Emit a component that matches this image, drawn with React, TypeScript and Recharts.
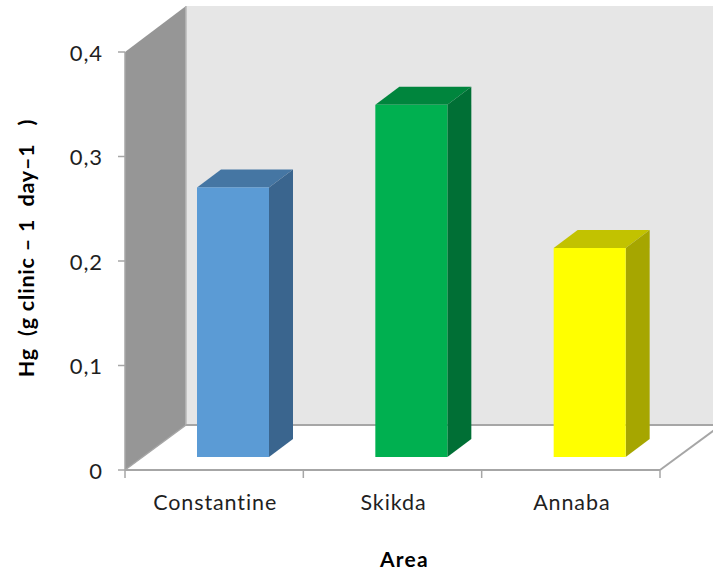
import { BarChart, Bar, XAxis, YAxis, usePlotArea } from "recharts";

const areas = ["Constantine", "Skikda", "Annaba"];
const hgValues = [0.258, 0.337, 0.2];
const yTicks = [0, 0.1, 0.2, 0.3, 0.4];

const barFronts = ["#5b9bd5", "#00b050", "#ffff00"];
const barTops = ["#4576a3", "#00853d", "#c2c200"];
const barSides = ["#3a658e", "#006f35", "#a6a600"];

const chartData = areas.map((area, i) => ({ area, hg: hgValues[i] }));

const WALL_DX = 61;
const WALL_DY = 45;
const BAR_SHIFT_X = 19;
const BAR_SHIFT_Y = 13;
const BAR_DX = 24;
const BAR_DY = 18;
const AXIS_GREY = "#a6a6a6";

const formatTick = (v: number) => String(v).replace(".", ",");

// Side wall, back wall and floor of the 3D box, hung off the plot rectangle
function Walls() {
  const plot = usePlotArea();
  if (!plot) return null;
  const { x, y, width, height } = plot;
  const left = x;
  const right = x + width;
  const top = y;
  const bottom = y + height;
  const band = width / areas.length;
  return (
    <g>
      <polygon
        points={`${left + WALL_DX},${top - WALL_DY - 1} 720,${top - WALL_DY - 1} 720,${bottom - WALL_DY} ${left + WALL_DX},${bottom - WALL_DY}`}
        fill="#e6e6e6"
      />
      <polygon
        points={`${left},${top} ${left + WALL_DX},${top - WALL_DY - 1} ${left + WALL_DX},${bottom - WALL_DY} ${left},${bottom}`}
        fill="#969696"
      />
      <line x1={left + WALL_DX} y1={top - WALL_DY - 1} x2={left + WALL_DX} y2={bottom - WALL_DY} stroke="#b8b8b8" strokeWidth={1.5} />
      <line x1={left + WALL_DX} y1={bottom - WALL_DY} x2={720} y2={bottom - WALL_DY} stroke={AXIS_GREY} strokeWidth={2} />
      <line x1={left} y1={bottom} x2={left + WALL_DX} y2={bottom - WALL_DY} stroke={AXIS_GREY} strokeWidth={1.5} />
      <line x1={right} y1={bottom} x2={right + WALL_DX} y2={bottom - WALL_DY} stroke={AXIS_GREY} strokeWidth={2} />
      {/* category ticks sit on the band edges, not the centres */}
      {[0, 1, 2, 3].map((i) => (
        <line key={i} x1={left + i * band} y1={bottom} x2={left + i * band} y2={bottom + 8} stroke={AXIS_GREY} strokeWidth={1.5} />
      ))}
    </g>
  );
}

function Box3D(props: any) {
  const { x, y, width, height, index } = props;
  const fx = x + BAR_SHIFT_X;
  const fy = y - BAR_SHIFT_Y;
  return (
    <g>
      <polygon
        points={`${fx},${fy} ${fx + BAR_DX},${fy - BAR_DY} ${fx + width + BAR_DX},${fy - BAR_DY} ${fx + width},${fy}`}
        fill={barTops[index]}
      />
      <polygon
        points={`${fx + width},${fy} ${fx + width + BAR_DX},${fy - BAR_DY} ${fx + width + BAR_DX},${fy + height - BAR_DY} ${fx + width},${fy + height}`}
        fill={barSides[index]}
      />
      <rect x={fx} y={fy} width={width} height={height} fill={barFronts[index]} />
    </g>
  );
}

export default function App() {
  return (
    <div style={{ position: "absolute", left: 0, top: 0, width: 713, height: 572, background: "#fff", overflow: "hidden" }}>
      <BarChart
        width={713}
        height={572}
        data={chartData}
        margin={{ top: 52, right: 53, bottom: 0, left: 0 }}
        style={{ fontFamily: "Lato" }}
      >
        <Walls />
        <XAxis
          dataKey="area"
          height={102}
          tickLine={false}
          axisLine={{ stroke: AXIS_GREY, strokeWidth: 2 }}
          tick={{ fontSize: 21.5, fill: "#1f1f1f", letterSpacing: 0.9, dx: 1 }}
          tickMargin={19}
          label={{
            value: "Area",
            position: "insideBottom",
            offset: 5,
            dx: 12,
            style: { fontSize: 21, fontWeight: 700, fill: "#000", letterSpacing: 1.2 },
          }}
        />
        <YAxis
          width={125}
          domain={[0, 0.4]}
          ticks={yTicks}
          tickFormatter={formatTick}
          tickSize={7}
          tickMargin={15}
          tickLine={{ stroke: AXIS_GREY, strokeWidth: 1.5 }}
          axisLine={{ stroke: AXIS_GREY, strokeWidth: 1.5 }}
          tick={{ fontSize: 22, fill: "#1f1f1f", letterSpacing: 0.9, dy: 1 }}
          label={{
            value: "Hg\u00a0\u00a0(g clinic – 1\u00a0\u00a0day–1\u00a0\u00a0\u00a0)",
            angle: -90,
            position: "insideLeft",
            offset: 26,
            dy: -13,
            style: { fontSize: 21.5, fontWeight: 700, fill: "#000", textAnchor: "middle", letterSpacing: 0.8 },
          }}
        />
        <Bar dataKey="hg" barSize={72} shape={(p: any) => <Box3D {...p} />} isAnimationActive={false} />
      </BarChart>
    </div>
  );
}
